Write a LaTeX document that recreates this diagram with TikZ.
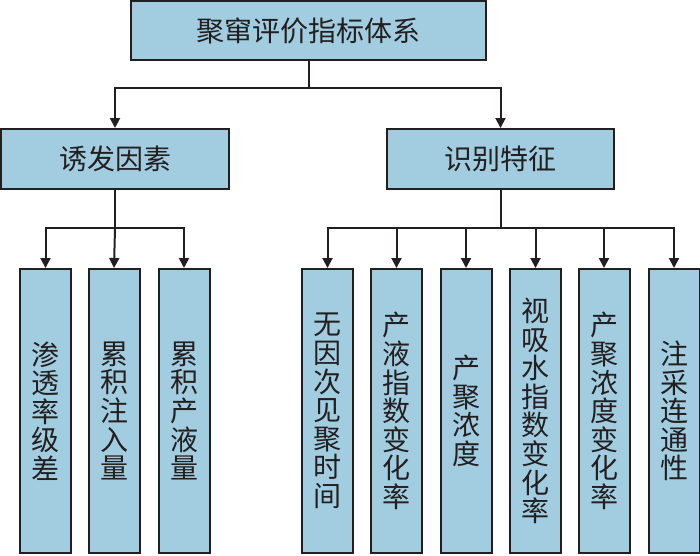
\documentclass[tikz,border=0pt]{standalone}
\usepackage{fontspec}
\newfontfamily\cjk{Noto Sans CJK SC}
\usetikzlibrary{arrows.meta}
\definecolor{boxfill}{RGB}{162,205,225}
\definecolor{ink}{RGB}{35,31,32}
\tikzset{
  box/.style={draw=ink, line width=2pt, fill=boxfill, inner sep=0pt, text=ink,
    font=\cjk\fontsize{28}{28.6}\selectfont, align=center},
  hbox/.style={box, minimum height=60pt},
  leaf/.style={box, minimum width=51pt, minimum height=284pt},
  conn/.style={draw=ink, line width=2pt},
  arr/.style={conn, -{Triangle[width=10pt,length=10pt]}}
}
\begin{document}
\begin{tikzpicture}[x=1pt,y=-1pt]
\useasboundingbox (0,0) rectangle (700,555);
\node[box, minimum width=355pt, minimum height=59pt] (top) at (308.5,30.5) {聚窜评价指标体系};
\node[hbox, minimum width=228pt] (ya) at (115,159) {诱发因素};
\node[hbox, minimum width=227pt] (yb) at (500.5,159) {识别特征};
\coordinate (j0) at (308.5,88);
\coordinate (ja) at (115,228);
\coordinate (jb) at (500.5,228);
% left leaves
\node[leaf] (a1) at (45.5,411) {渗\\透\\率\\级\\差};
\node[leaf] (a2) at (114,411) {累\\积\\注\\入\\量};
\node[leaf] (a3) at (184,411) {累\\积\\产\\液\\量};
% right leaves
\node[leaf] (b1) at (327.5,411) {无\\因\\次\\见\\聚\\时\\间};
\node[leaf] (b2) at (396.5,411) {产\\液\\指\\数\\变\\化\\率};
\node[leaf] (b3) at (466,411) {产\\聚\\浓\\度};
\node[leaf] (b4) at (535.5,411) {视\\吸\\水\\指\\数\\变\\化\\率};
\node[leaf] (b5) at (604,411) {产\\聚\\浓\\度\\变\\化\\率};
\node[leaf] (b6) at (674,411) {注\\采\\连\\通\\性};
% connectors
\draw[conn] (top.south) -- (j0);
\draw[arr] (j0) -| (ya.north);
\draw[arr] (j0) -| (yb.north);
\draw[conn] (ya.south) -- (ja);
\draw[arr] (ja) -| (a1.north);
\draw[arr] (ja) -- (a2.north);
\draw[arr] (ja) -| (a3.north);
\draw[conn] (yb.south) -- (jb);
\foreach \n in {b1,b2,b3,b4,b5,b6} \draw[arr] (jb) -| (\n.north);
\end{tikzpicture}
\end{document}
